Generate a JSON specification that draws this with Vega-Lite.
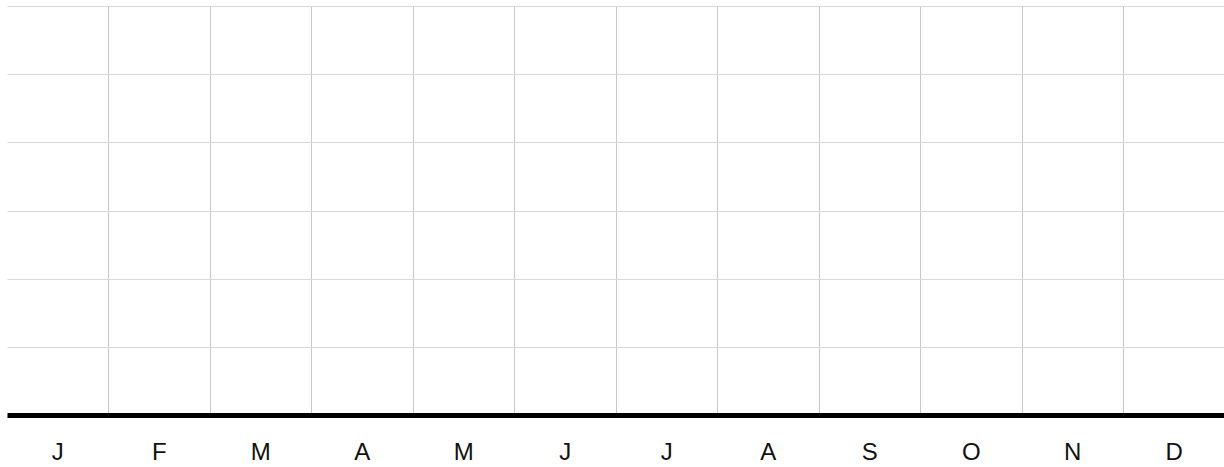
{
  "$schema": "https://vega.github.io/schema/vega-lite/v6.json",
  "width": 1218,
  "height": 409,
  "padding": {"left": 7, "top": 6, "right": 0, "bottom": 0},
  "background": "white",
  "config": {"view": {"stroke": null}, "font": "Liberation Sans"},
  "data": {"values": [
    {"month": "Jan", "value": 0}, {"month": "Feb", "value": 0}, {"month": "Mar", "value": 0},
    {"month": "Apr", "value": 0}, {"month": "May", "value": 0}, {"month": "Jun", "value": 0},
    {"month": "Jul", "value": 0}, {"month": "Aug", "value": 0}, {"month": "Sep", "value": 0},
    {"month": "Oct", "value": 0}, {"month": "Nov", "value": 0}, {"month": "Dec", "value": 0}
  ]},
  "mark": {"type": "tick", "opacity": 0},
  "encoding": {
    "x": {
      "field": "month", "type": "ordinal",
      "sort": ["Jan","Feb","Mar","Apr","May","Jun","Jul","Aug","Sep","Oct","Nov","Dec"],
      "scale": {"paddingInner": 0, "paddingOuter": 0},
      "axis": {
        "title": null,
        "labelExpr": "substring(datum.label, 0, 1)",
        "labelAngle": 0,
        "labelFontSize": 24,
        "labelColor": "#111111",
        "labelPadding": 25,
        "ticks": false,
        "domainColor": "#000000",
        "domainWidth": 5,
        "grid": true,
        "gridColor": "#c8c8c8",
        "gridWidth": 1,
        "gridOpacity": {"condition": {"test": "datum.value === 'Jan'", "value": 0}, "value": 1},
        "bandPosition": 0
      }
    },
    "y": {
      "field": "value", "type": "quantitative",
      "scale": {"domain": [0, 6], "nice": false, "zero": true},
      "axis": {
        "title": null,
        "labels": false,
        "ticks": false,
        "domain": false,
        "tickCount": 6,
        "grid": true,
        "gridColor": "#d9d9d9",
        "gridWidth": 1
      }
    }
  }
}
